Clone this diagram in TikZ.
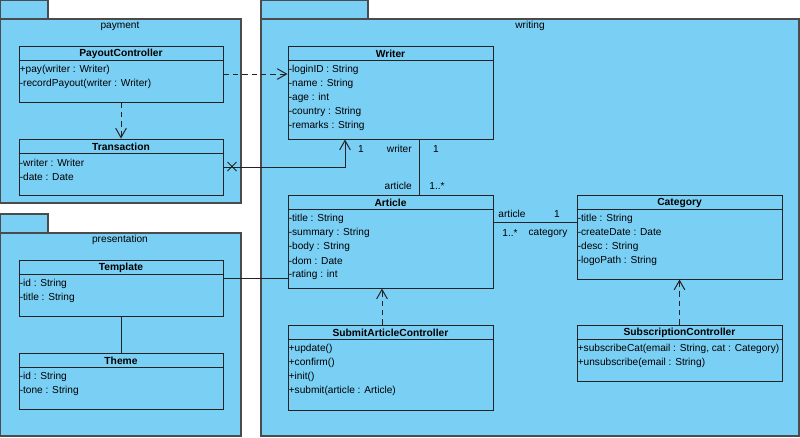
\documentclass[tikz,border=0pt]{standalone}
\usepackage{fontspec}
\setmainfont{Liberation Sans}
\usetikzlibrary{arrows.meta}
\usetikzlibrary{calc}
\usetikzlibrary{fit}

\definecolor{umlfill}{RGB}{122,207,245}
\definecolor{umlline}{RGB}{35,35,35}
\definecolor{pkgline}{RGB}{75,75,75}

\begin{document}
\begin{tikzpicture}[x=0.75pt,y=-0.75pt,
    pkg/.style={draw=pkgline,fill=umlfill,line width=0.9pt,inner sep=0pt},
    cls/.style={draw=umlline,fill=umlfill,line width=0.75pt,inner sep=0pt},
    ctitle/.style={font=\bfseries\fontsize{7.7}{9}\selectfont,inner sep=0pt},
    crow/.style={anchor=west,font=\fontsize{7.6}{9}\selectfont,inner sep=0pt},
    lbl/.style={font=\fontsize{7.6}{9}\selectfont,inner sep=0pt},
    assoc/.style={draw=umlline,line width=0.75pt},
    nav/.style={assoc,-{Straight Barb[length=7pt,width=8pt]}},
    dep/.style={nav,dash pattern=on 4pt off 3pt}]
    \useasboundingbox (0,0) rectangle (800,437);

    % packages
    \node[pkg, fit={(0.5,0.5) (48,19)}] (payment-tab) {};
    \node[pkg, fit={(0.5,19) (241,203)}] (payment) {};
    \node[lbl] (payment-l) at (120,26) {payment};
    \node[pkg, fit={(261,0.5) (368,19)}] (writing-tab) {};
    \node[pkg, fit={(261,19) (799,436)}] (writing) {};
    \node[lbl] (writing-l) at (530,26) {writing};
    \node[pkg, fit={(0.5,214) (48,233)}] (presentation-tab) {};
    \node[pkg, fit={(0.5,233) (241,436)}] (presentation) {};
    \node[lbl] (presentation-l) at (120,240) {presentation};

    % classes
    \node[cls, fit={(19,46) (223,102)}] (payout) {};
    \node[ctitle] (payout-t) at ($(payout.north)+(0,8)$) {PayoutController};
    \draw[assoc] ($(payout.north west)+(0,15)$) -- ($(payout.north east)+(0,15)$);
    \foreach \t [count=\i] in {+pay(writer : Writer), -recordPayout(writer : Writer)}
      \node[crow] (payout-\i) at ($(payout.north west)+(1,10+14*\i)$) {\t};

    \node[cls, fit={(19,139) (223,195)}] (transaction) {};
    \node[ctitle] (transaction-t) at ($(transaction.north)+(0,8)$) {Transaction};
    \draw[assoc] ($(transaction.north west)+(0,15)$) -- ($(transaction.north east)+(0,15)$);
    \foreach \t [count=\i] in {-writer : Writer, -date : Date}
      \node[crow] (transaction-\i) at ($(transaction.north west)+(1,10+14*\i)$) {\t};

    \node[cls, fit={(19,260) (223,316)}] (template) {};
    \node[ctitle] (template-t) at ($(template.north)+(0,8)$) {Template};
    \draw[assoc] ($(template.north west)+(0,15)$) -- ($(template.north east)+(0,15)$);
    \foreach \t [count=\i] in {-id : String, -title : String}
      \node[crow] (template-\i) at ($(template.north west)+(1,10+14*\i)$) {\t};

    \node[cls, fit={(19,353) (223,409)}] (theme) {};
    \node[ctitle] (theme-t) at ($(theme.north)+(0,8)$) {Theme};
    \draw[assoc] ($(theme.north west)+(0,15)$) -- ($(theme.north east)+(0,15)$);
    \foreach \t [count=\i] in {-id : String, -tone : String}
      \node[crow] (theme-\i) at ($(theme.north west)+(1,10+14*\i)$) {\t};

    \node[cls, fit={(288,46) (493,139)}] (writer) {};
    \node[ctitle] (writer-t) at ($(writer.north)+(0,8)$) {Writer};
    \draw[assoc] ($(writer.north west)+(0,15)$) -- ($(writer.north east)+(0,15)$);
    \foreach \t [count=\i] in {-loginID : String, -name : String, -age : int, -country : String, -remarks : String}
      \node[crow] (writer-\i) at ($(writer.north west)+(1,10+14*\i)$) {\t};

    \node[cls, fit={(288,195) (493,288)}] (article) {};
    \node[ctitle] (article-t) at ($(article.north)+(0,8)$) {Article};
    \draw[assoc] ($(article.north west)+(0,15)$) -- ($(article.north east)+(0,15)$);
    \foreach \t [count=\i] in {-title : String, -summary : String, -body : String, -dom : Date, -rating : int}
      \node[crow] (article-\i) at ($(article.north west)+(1,10+14*\i)$) {\t};

    \node[cls, fit={(288,325) (493,410)}] (submit) {};
    \node[ctitle] (submit-t) at ($(submit.north)+(0,8)$) {SubmitArticleController};
    \draw[assoc] ($(submit.north west)+(0,15)$) -- ($(submit.north east)+(0,15)$);
    \foreach \t [count=\i] in {+update(), +confirm(), +init(), +submit(article : Article)}
      \node[crow] (submit-\i) at ($(submit.north west)+(1,10+14*\i)$) {\t};

    \node[cls, fit={(577,195) (782,279)}] (category) {};
    \node[ctitle] (category-t) at ($(category.north)+(0,8)$) {Category};
    \draw[assoc] ($(category.north west)+(0,15)$) -- ($(category.north east)+(0,15)$);
    \foreach \t [count=\i] in {-title : String, -createDate : Date, -desc : String, -logoPath : String}
      \node[crow] (category-\i) at ($(category.north west)+(1,10+14*\i)$) {\t};

    \node[cls, fit={(577,325) (782,381)}] (subscription) {};
    \node[ctitle] (subscription-t) at ($(subscription.north)+(0,8)$) {SubscriptionController};
    \draw[assoc] ($(subscription.north west)+(0,15)$) -- ($(subscription.north east)+(0,15)$);
    \foreach \t [count=\i] in {{+subscribeCat(email : String, cat : Category)}, +unsubscribe(email : String)}
      \node[crow] (subscription-\i) at ($(subscription.north west)+(1,10+14*\i)$) {\t};

    % connectors
    \draw[dep] (payout.east) -- (payout.east -| writer.west);
    \draw[dep] (payout.south) -- (transaction.north);
    \draw[dep] (subscription.north) -- (category.south);
    \coordinate (sa) at ($(submit.north)+(-8.5,0)$);
    \draw[dep] (sa) -- (sa |- article.south);

    \coordinate (tw) at ($(writer.south)+(-45.5,0)$);
    \draw[nav] (transaction.east) -| (tw);
    \draw[assoc] ($(transaction.east)+(4,-5)$) -- ++(9,9)
                 ($(transaction.east)+(4,4)$) -- ++(9,-9);
    \node[lbl] (tw-m) at (361,149) {1};

    \coordinate (wa) at ($(writer.south)+(28.5,0)$);
    \draw[assoc] (wa) -- (wa |- article.north);
    \node[lbl, anchor=east] (wa-r1) at (412,149) {writer};
    \node[lbl] (wa-m1) at (436,149) {1};
    \node[lbl, anchor=east] (wa-r2) at (412,186) {article};
    \node[lbl] (wa-m2) at (437,186) {1..*};

    \coordinate (ac) at ($(article.north east)+(0,28)$);
    \draw[assoc] (ac) -- (ac -| category.west);
    \node[lbl] (ac-r1) at (512,214) {article};
    \node[lbl] (ac-m1) at (557,214) {1};
    \node[lbl] (ac-m2) at (510,233) {1..*};
    \node[lbl] (ac-r2) at (548,233) {category};

    \coordinate (ta) at ($(template.north east)+(0,19)$);
    \draw[assoc] (ta) -- (ta -| article.west);
    \draw[assoc] (template.south) -- (theme.north);
  \end{tikzpicture}
\end{document}
